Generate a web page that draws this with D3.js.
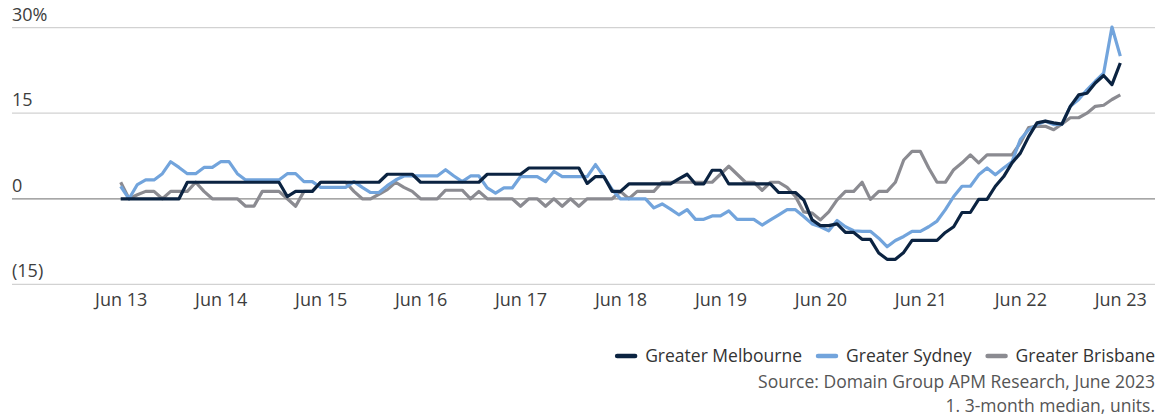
<!DOCTYPE html>
<html>
<head>
<meta charset="utf-8">
<script src="https://cdn.jsdelivr.net/npm/d3@7"></script>
<style>
  html, body { margin: 0; padding: 0; background: #fff; }
  svg { display: block; }
  text { font-family: "Open Sans", Roboto, sans-serif; }
</style>
</head>
<body>
<svg id="chart" width="1159" height="420"></svg>
<script>
const xLabels = ["Jun 13","Jun 14","Jun 15","Jun 16","Jun 17","Jun 18","Jun 19","Jun 20","Jun 21","Jun 22","Jun 23"];
const yTicks = [30, 15, 0, -15];
const yTickLabels = ["30%", "15", "0", "(15)"];
const seriesNames = ["Greater Melbourne", "Greater Sydney", "Greater Brisbane"];

const melbourne = [
  0,0,0,0,0,0,0,0,
  2.9,2.9,2.9,2.9,2.9,2.9,2.9,2.9,2.9,2.9,2.9,2.9,
  0.4,1.3,1.3,1.3,
  2.9,2.9,2.9,2.9,2.9,2.9,2.9,2.9,
  4.3,4.3,4.3,4.3,
  2.9,2.9,2.9,2.9,2.9,2.9,2.9,2.9,
  4.3,4.3,4.3,4.3,4.3,
  5.4,5.4,5.4,5.4,5.4,5.4,5.4,
  2.7,3.9,3.9,1.3,1.3,
  2.6,2.6,2.6,2.6,2.6,2.6,
  3.5,4.3,2.6,2.6,5.0,5.0,
  2.6,2.6,2.6,2.6,2.6,2.6,
  1.1,1.1,1.1,-0.2,-3.7,-4.7,-4.7,-4.4,-5.9,-5.9,-7.1,-7.1,
  -9.5,-10.6,-10.6,-9.4,-7.3,-7.3,-7.3,-7.3,-5.9,-4.9,-2.4,-2.4,
  -0.1,-0.1,2.2,3.9,6.3,8.0,10.9,13.3,13.6,13.3,13.1,16.2,
  18.2,18.5,20.3,21.6,20.0,23.8
];
const sydney = [
  2.2,0,2.5,3.3,3.3,4.4,6.5,5.5,4.4,4.4,5.5,5.5,6.5,6.5,4.4,
  3.3,3.3,3.3,3.3,3.3,
  4.4,4.4,3.0,3.0,
  2.0,2.0,2.0,2.0,
  3.0,2.0,1.1,1.1,2.3,3.3,
  4.0,4.0,4.0,4.0,4.0,
  5.1,4.0,3.0,4.0,4.0,1.9,1.0,1.9,1.9,
  3.9,3.9,3.9,3.0,4.8,
  3.9,3.9,3.9,3.9,
  6.0,3.9,1.6,
  0,0,0,0,
  -1.6,-0.9,-1.8,-2.8,-1.9,-3.6,-3.6,-3.0,-3.0,-2.1,
  -3.6,-3.6,-3.6,
  -4.6,-3.7,-2.8,-1.9,-1.9,-3.1,-4.4,-4.9,-5.6,-3.8,-4.9,-5.6,-5.7,-5.7,
  -6.9,-8.4,-7.3,-6.6,-5.7,-5.7,-4.9,-3.9,-1.9,0.4,2.2,2.2,4.2,5.4,4.2,5.4,
  6.5,10.4,12.1,13.0,13.6,13.0,13.1,16.2,17.4,19.1,20.6,22.0,30.1,25.0
];
const brisbane = [
  2.9,0,0.7,1.3,1.3,0,1.3,1.3,1.3,2.9,1.3,
  0,0,0,0,
  -1.3,-1.3,
  1.3,1.3,1.3,
  0,-1.3,1.3,1.3,
  2.9,2.9,2.9,2.9,
  1.3,0,0,0.8,1.6,2.9,2.0,1.3,
  0,0,0,
  1.5,1.5,1.5,
  0,1.3,
  0,0,0,0,
  -1.3,0,0,-1.3,0,-1.3,0,-1.3,
  0,0,0,0,
  1.3,0,
  1.3,1.3,1.3,
  2.9,2.9,2.9,2.9,2.9,2.9,2.9,
  4.3,5.7,4.3,2.9,2.9,1.5,2.9,2.9,2.0,0.4,-2.3,-2.5,-3.7,-2.3,-0.2,1.3,
  1.3,2.9,-0.1,1.3,1.3,2.9,6.8,8.3,8.3,5.4,2.9,2.9,5.1,6.3,7.7,6.3,
  7.7,7.7,7.7,7.7,
  9.8,12.5,12.7,12.7,12.1,13.1,14.2,14.2,15.0,16.2,16.4,17.4,18.2
];
const seriesValues = [melbourne, sydney, brisbane];
const seriesColors = ["#0b2341", "#72a4dc", "#8b8b91"];

const svg = d3.select("#chart");
const gridLeft = 12, gridRight = 1155;

const x = d3.scaleLinear().domain([0, melbourne.length - 1]).range([120.7, 1120.3]);
const y = d3.scaleLinear().domain([-15, 30]).range([284.4, 27.6]);

// gridlines
svg.append("g").selectAll("line").data(yTicks).join("line")
  .attr("x1", gridLeft).attr("x2", gridRight)
  .attr("y1", d => y(d)).attr("y2", d => y(d))
  .attr("stroke", d => d === 0 ? "#8a8a8a" : "#d2d2d2")
  .attr("stroke-width", 1.3);

// y labels
svg.append("g").selectAll("text").data(yTicks).join("text")
  .attr("x", gridLeft)
  .attr("y", d => y(d) - 7)
  .attr("font-size", 18)
  .attr("fill", "#3d3d3d")
  .text((d, i) => yTickLabels[i]);

// x labels via axis
const xAxis = d3.axisBottom(x)
  .tickValues(xLabels.map((d, i) => i * 12))
  .tickFormat((d, i) => xLabels[i])
  .tickSize(0).tickPadding(0);
const gx = svg.append("g").attr("transform", "translate(0,293)").call(xAxis);
gx.select(".domain").remove();
gx.selectAll("text")
  .attr("dy", "0.71em")
  .attr("font-size", 18)
  .attr("font-family", "'Open Sans', Roboto, sans-serif")
  .attr("fill", "#3d3d3d");

// lines
const line = d3.line().x((d, i) => x(i)).y(d => y(d)).curve(d3.curveLinear);
[2, 1, 0].forEach(s => {
  svg.append("path")
    .datum(seriesValues[s])
    .attr("d", line)
    .attr("fill", "none")
    .attr("stroke", seriesColors[s])
    .attr("stroke-width", 3.2)
    .attr("stroke-linejoin", "round");
});

// legend (right aligned)
const legend = svg.append("g");
const legendY = 356;
let cursor = 1155;
for (let s = seriesNames.length - 1; s >= 0; s--) {
  const t = legend.append("text")
    .attr("y", legendY + 6)
    .attr("font-size", 17.5)
    .attr("fill", "#333")
    .text(seriesNames[s]);
  const w = t.node().getComputedTextLength();
  t.attr("x", cursor - w);
  legend.append("line")
    .attr("x1", cursor - w - 28).attr("x2", cursor - w - 10)
    .attr("y1", legendY).attr("y2", legendY)
    .attr("stroke", seriesColors[s]).attr("stroke-width", 4.5)
    .attr("stroke-linecap", "round");
  cursor = cursor - w - 28 - 16;
}

svg.append("text")
  .attr("x", 1155).attr("y", 388)
  .attr("text-anchor", "end")
  .attr("font-size", 17.5)
  .attr("fill", "#555")
  .text("Source: Domain Group APM Research, June 2023");
svg.append("text")
  .attr("x", 1155).attr("y", 412)
  .attr("text-anchor", "end")
  .attr("font-size", 17.5)
  .attr("fill", "#555")
  .text("1. 3-month median, units.");
</script>
</body>
</html>
